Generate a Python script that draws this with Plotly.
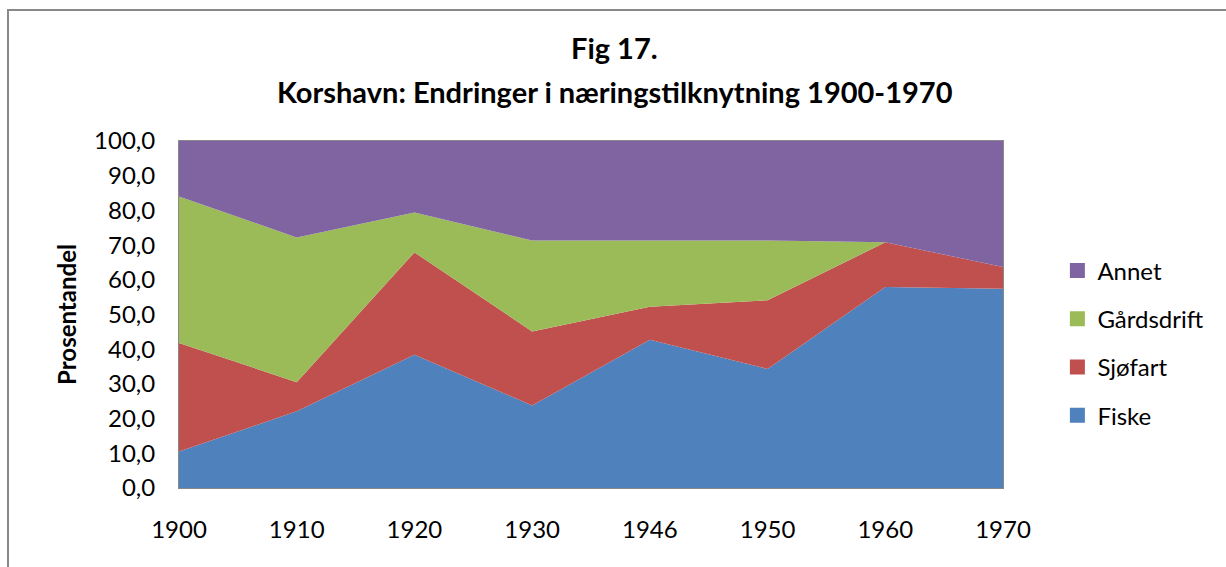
import plotly.graph_objects as go

years = ["1900", "1910", "1920", "1930", "1946", "1950", "1960", "1970"]
fiske = [10.5, 22.1, 38.4, 23.8, 42.7, 34.3, 57.9, 57.4]
sjofart = [31.3, 8.4, 29.5, 21.3, 9.5, 19.8, 12.9, 6.3]
gardsdrift = [42.2, 41.7, 11.5, 26.2, 19.1, 17.2, 0.0, 0.0]
annet = [16.0, 27.8, 20.6, 28.7, 28.7, 28.7, 29.2, 36.3]

series_names = ["Fiske", "Sjøfart", "Gårdsdrift", "Annet"]
series_values = [fiske, sjofart, gardsdrift, annet]
colors = ["#4F81BD", "#C0504D", "#9BBB59", "#8064A2"]

FONT = "Lato"

fig = go.Figure()
for name, vals, col in zip(series_names, series_values, colors):
    fig.add_trace(go.Scatter(
        x=years, y=vals, name=name, mode="lines",
        stackgroup="one", fillcolor=col,
        line=dict(width=0, color=col),
        showlegend=False, hoverinfo="x+y+name",
    ))
# legend entries with square markers (Annet on top)
for name, col in reversed(list(zip(series_names, colors))):
    fig.add_trace(go.Scatter(
        x=[None], y=[None], name=name, mode="markers",
        marker=dict(symbol="square", size=15, color=col),
        legendgroup=name, showlegend=True,
    ))

fig.update_layout(
    width=1226, height=567,
    margin=dict(l=179, r=223, t=141, b=79),
    paper_bgcolor="white", plot_bgcolor="white",
    separators=", ",
    font=dict(family=FONT, size=24, color="#000000"),
    showlegend=True,
    legend=dict(
        x=1.066, y=(488 - 343) / 347, xanchor="left", yanchor="middle",
        traceorder="grouped", tracegroupgap=14,
        font=dict(family=FONT, size=24, color="#000000"),
        itemwidth=30, bgcolor="rgba(0,0,0,0)",
    ),
    xaxis=dict(
        type="category", range=[0, 7], showgrid=False,
        showline=True, linecolor="#898989", linewidth=1, mirror=True,
        ticks="", tickfont=dict(size=24), ticklabelstandoff=20,
        zeroline=False,
    ),
    yaxis=dict(
        range=[0, 100], dtick=10, tickformat=".1f", showgrid=False,
        showline=True, linecolor="#898989", linewidth=1, mirror=True,
        ticks="", tickfont=dict(size=24), ticklabelstandoff=18,
        zeroline=False,
        title=dict(text="<b>Prosentandel</b>", font=dict(size=24), standoff=10),
    ),
    annotations=[
        dict(text="<b>Fig 17.</b>", x=0.529, y=(488 - 48) / 347, xref="paper", yref="paper",
             showarrow=False, font=dict(size=29), xanchor="center", yanchor="middle"),
        dict(text="<b>Korshavn: Endringer i næringstilknytning 1900-1970</b>",
             x=0.529, y=(488 - 92) / 347, xref="paper", yref="paper",
             showarrow=False, font=dict(size=29), xanchor="center", yanchor="middle"),
    ],
    shapes=[
        dict(type="rect", xref="paper", yref="paper",
             x0=(8 - 179) / 824, x1=1.4, y0=-0.5, y1=(488 - 10) / 347,
             line=dict(color="#898989", width=2), fillcolor="rgba(0,0,0,0)", layer="below"),
    ],
)

fig.write_html("out.html", config={"displayModeBar": False},
               post_script="document.body.style.margin='0';")
